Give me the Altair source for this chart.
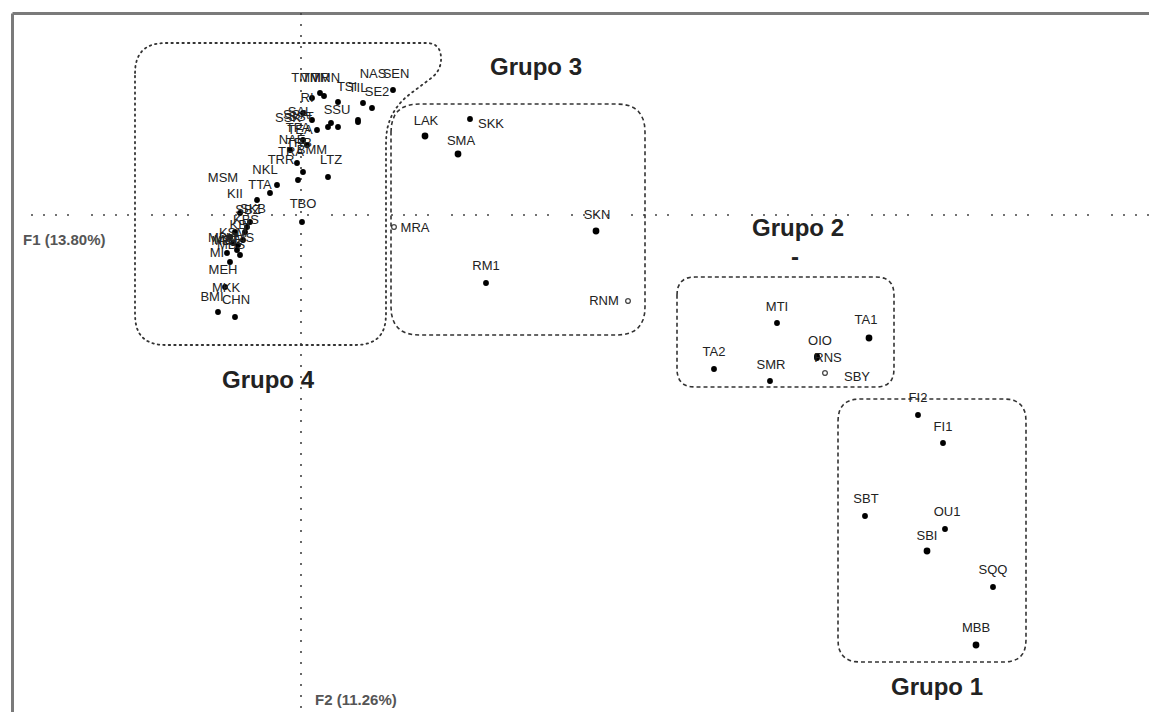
import altair as alt
import pandas as pd
import numpy as np

# ---- observations (F1, F2 coordinates) and their label anchors ----
names = ["LAK", "SKK", "SMA", "SKN", "MRA", "RM1", "RNM",
         "MTI", "TA1", "OIO", "RNS", "TA2", "SMR", "SBY",
         "FI2", "FI1", "SBT", "OU1", "SBI", "SQQ", "MBB",
         "TMR", "TMM", "TMN", "NAS", "SEN", "TSI", "SE2", "TIL", "RI",
         "SSU", "SSA", "SAL", "TEA", "NAE", "BMM", "TRA", "TRR", "LTZ",
         "NKL", "MSM", "TTA", "KII", "TBO", "SBZ", "KBI", "MBE", "MBK",
         "KMS", "MI", "MEH", "MKK", "BMI", "CHN", "MBS", "KBS", "SKB",
         "TPA", "SSK", "MBT", "KSM", "SST", "TRB"]
f1 = [1.24, 1.69, 1.57, 2.95, 0.93, 1.85, 3.27,
      4.76, 5.68, 5.16, 5.16, 4.13, 4.69, 5.24,
      6.17, 6.42, 5.64, 6.44, 6.26, 6.92, 6.75,
      0.19, 0.11, 0.23, 0.62, 0.92, 0.37, 0.71, 0.57, 0.02,
      0.57, 0.11, 0.37, 0.02, -0.11, -0.04, -0.03, 0.02, 0.27,
      -0.24, -0.44, -0.31, -0.61, 0.01, -0.54, -0.71, -0.64, -0.58,
      -0.66, -0.74, -0.71, -0.76, -0.83, -0.66, -0.61, -0.56, -0.51,
      0.27, 0.16, -0.68, -0.63, 0.30, 0.06]
f2 = [0.79, 0.96, 0.61, -0.16, -0.12, -0.68, -0.86,
      -1.08, -1.23, -1.41, -1.43, -1.54, -1.66, -1.58,
      -2.00, -2.28, -3.01, -3.14, -3.36, -3.72, -4.30,
      1.22, 1.17, 1.19, 1.12, 1.25, 1.13, 1.07, 0.95, 1.02,
      0.93, 0.95, 0.88, 0.75, 0.65, 0.52, 0.35, 0.43, 0.38,
      0.30, 0.15, 0.22, 0.02, -0.07, -0.12, -0.22, -0.35, -0.25,
      -0.17, -0.38, -0.47, -0.72, -0.97, -1.02, -0.40, -0.17, -0.07,
      0.88, 0.85, -0.28, -0.30, 0.92, 0.70]
label_f1 = [1.25, 1.90, 1.60, 2.96, 1.14, 1.85, 3.03,
            4.76, 5.65, 5.19, 5.27, 4.13, 4.70, 5.56,
            6.17, 6.42, 5.65, 6.46, 6.26, 6.92, 6.75,
            0.15, 0.05, 0.25, 0.72, 0.95, 0.46, 0.76, 0.57, 0.06,
            0.36, -0.05, -0.01, -0.01, -0.09, 0.11, -0.10, -0.20, 0.30,
            -0.36, -0.78, -0.41, -0.66, 0.02, -0.53, -0.61, -0.73, -0.79,
            -0.61, -0.84, -0.78, -0.75, -0.89, -0.65, -0.70, -0.55, -0.48,
            -0.03, -0.13, -0.76, -0.68, 0.00, -0.02]
label_f2 = [0.94, 0.91, 0.74, 0.00, -0.13, -0.51, -0.86,
            -0.92, -1.05, -1.26, -1.43, -1.37, -1.50, -1.62,
            -1.83, -2.12, -2.84, -2.97, -3.21, -3.55, -4.13,
            1.37, 1.37, 1.37, 1.41, 1.41, 1.28, 1.23, 1.27, 1.17,
            1.05, 1.00, 1.03, 0.85, 0.75, 0.65, 0.63, 0.55, 0.55,
            0.45, 0.37, 0.30, 0.21, 0.11, 0.05, -0.10, -0.25, -0.23,
            -0.23, -0.38, -0.55, -0.73, -0.82, -0.85, -0.30, -0.05, 0.06,
            0.87, 0.97, -0.26, -0.18, 0.98, 0.72]
open_names = ["MRA", "RNM", "SBY"]
big_names = ["SMA", "TA1", "SKN", "LAK", "MBB", "SBI"]

# ---- group outlines (vertices) ----
g_names = ["Grupo 1", "Grupo 2", "Grupo 3"]
g_x0 = [5.37, 3.76, 0.90]
g_x1 = [7.25, 5.93, 3.44]
g_y0 = [-4.47, -1.72, -1.20]
g_y1 = [-1.84, -0.62, 1.11]
g_r = [0.22, 0.18, 0.28]
g4_x = [-1.66, 1.39, 1.41, 0.85, 0.85, -1.66]
g4_y = [1.72, 1.72, 1.45, 1.03, -1.30, -1.30]

title_txt = ["Grupo 3", "Grupo 2", "Grupo 4", "Grupo 1", "-"]
title_f1 = [2.35, 4.97, -0.33, 6.36, 4.94]
title_f2 = [1.47, -0.14, -1.66, -4.73, -0.43]

axis_txt = ["F1 (13.80%)", "F2 (11.26%)"]
axis_f1 = [-2.78, 0.14]
axis_f2 = [-0.25, -4.85]

x_dom = [-2.89, 8.48]
y_dom = [-4.97, 2.02]


def rounded(vx, vy, r, n=9):
    pts = []
    m = len(vx)
    for i in range(m):
        V = np.array([vx[i], vy[i]], dtype=float)
        P = np.array([vx[i - 1], vy[i - 1]], dtype=float)
        N = np.array([vx[(i + 1) % m], vy[(i + 1) % m]], dtype=float)
        dp, dn = P - V, N - V
        lp, ln = np.hypot(*dp), np.hypot(*dn)
        rr = min(r, lp / 2, ln / 2)
        A = V + dp / lp * rr
        B = V + dn / ln * rr
        for t in np.linspace(0, 1, n):
            pts.append((1 - t) ** 2 * A + 2 * (1 - t) * t * V + t ** 2 * B)
    pts.append(pts[0])
    return pts


rows = []
for g, a, b, c, d, r in zip(g_names, g_x0, g_x1, g_y0, g_y1, g_r):
    for i, p in enumerate(rounded([a, b, b, a], [d, d, c, c], r)):
        rows.append({"g": g, "i": i, "x": p[0], "y": p[1]})
outline = pd.DataFrame(rows)
g4 = pd.DataFrame([{"g": "Grupo 4", "i": i, "x": p[0], "y": p[1]}
                   for i, p in enumerate(rounded(g4_x, g4_y, 0.3))])

pts = pd.DataFrame({"name": names, "x": f1, "y": f2, "lx": label_f1, "ly": label_f2})
pts["kind"] = ["open" if n in open_names else ("big" if n in big_names else "dot") for n in names]

xs = alt.Scale(domain=x_dom, nice=False, zero=False)
ys = alt.Scale(domain=y_dom, nice=False, zero=False)
xa = alt.Axis(orient="top", domain=True, domainColor="#7a7a7a", domainWidth=3,
              labels=False, ticks=False, grid=False, title="")
ya = alt.Axis(orient="left", domain=True, domainColor="#7a7a7a", domainWidth=3,
              labels=False, ticks=False, grid=False, title="")


def X(f):
    return alt.X(f, type="quantitative", scale=xs, axis=xa)


def Y(f):
    return alt.Y(f, type="quantitative", scale=ys, axis=ya)


zero = pd.DataFrame({"v": [0.0]})
hline = alt.Chart(zero).mark_rule(color="#444", strokeWidth=1.6,
                                  strokeDash=[2, 10, 2, 10, 2, 10, 2, 22]).encode(y=Y("v"))
vline = alt.Chart(zero).mark_rule(color="#444", strokeWidth=1.6,
                                  strokeDash=[2, 9]).encode(x=X("v"))

dashed = alt.Chart(outline).mark_line(color="#333", strokeWidth=1.6, strokeDash=[4, 3]).encode(
    x=X("x"), y=Y("y"), detail="g:N", order="i:Q")
dotted = alt.Chart(g4).mark_line(color="#333", strokeWidth=1.8, strokeDash=[1.5, 4],
                                 strokeCap="round").encode(
    x=X("x"), y=Y("y"), detail="g:N", order="i:Q")

dots = alt.Chart(pts[pts.kind == "dot"]).mark_circle(color="black", size=34, opacity=1).encode(
    x=X("x"), y=Y("y"))
bigdots = alt.Chart(pts[pts.kind == "big"]).mark_circle(color="black", size=46, opacity=1).encode(
    x=X("x"), y=Y("y"))
opens = alt.Chart(pts[pts.kind == "open"]).mark_point(shape="circle", filled=False, color="black",
                                                      fill="white", strokeWidth=1.4, size=22).encode(
    x=X("x"), y=Y("y"))
labels = alt.Chart(pts).mark_text(font="Liberation Sans", fontSize=13, color="#222",
                                  align="center", baseline="middle").encode(
    x=X("lx"), y=Y("ly"), text="name:N")

titles = alt.Chart(pd.DataFrame({"t": title_txt, "x": title_f1, "y": title_f2})).mark_text(
    font="Liberation Sans", fontSize=24, fontWeight="bold", color="#222",
    align="center", baseline="middle").encode(x=X("x"), y=Y("y"), text="t:N")
axtitles = alt.Chart(pd.DataFrame({"t": axis_txt, "x": axis_f1, "y": axis_f2})).mark_text(
    font="Liberation Sans", fontSize=15, fontWeight="bold", color="#555",
    align="left", baseline="middle").encode(x=X("x"), y=Y("y"), text="t:N")

chart = alt.layer(hline, vline, dashed, dotted, dots, bigdots, opens, labels, titles, axtitles).properties(
    width=1137, height=699,
    autosize=alt.AutoSizeParams(type="none"),
    padding={"left": 4, "top": 5, "right": 0, "bottom": 0},
).configure_view(strokeWidth=0)

chart.save("out.html", embed_options={"renderer": "svg", "actions": False})
